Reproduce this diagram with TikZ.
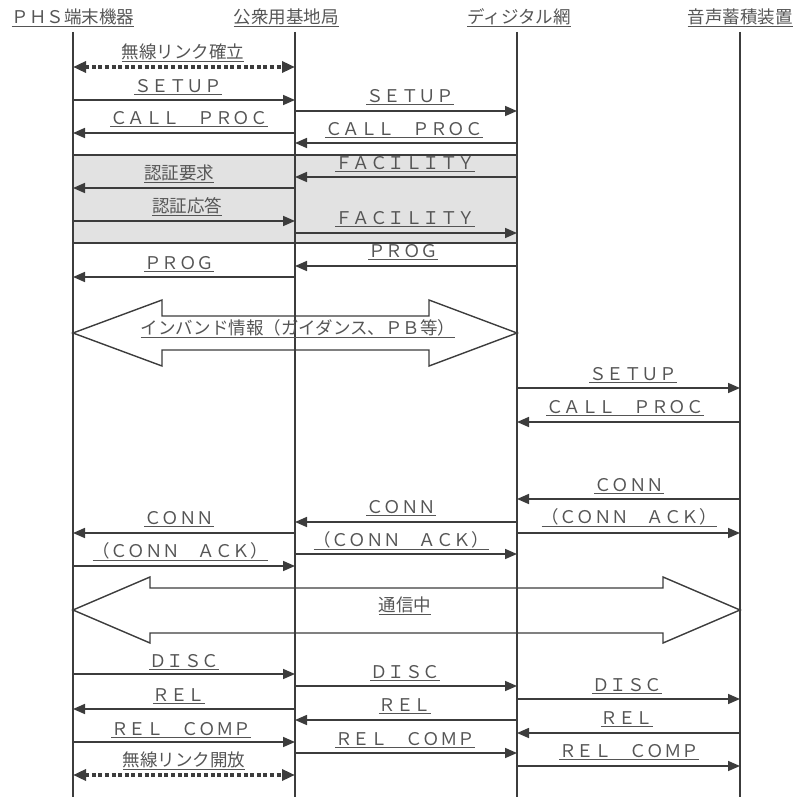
\documentclass[tikz,border=0pt]{standalone}
\usepackage{fontspec}
\newfontfamily\jpfont{Noto Sans CJK JP}
\usetikzlibrary{arrows.meta}
\definecolor{linegray}{HTML}{3C3C3C}
\definecolor{txtgray}{HTML}{555555}
\definecolor{boxgray}{HTML}{E2E2E2}
\tikzset{
  life/.style={draw=linegray, line width=1.6pt},
  msg/.style={draw=linegray, line width=1.6pt, -{Triangle[length=12pt,width=10pt]}},
  radiolink/.style={draw=linegray, line width=3.6pt, dash pattern=on 4pt off 2.6pt,
    {Triangle[length=13pt,width=11pt]}-{Triangle[length=13pt,width=11pt]}},
  bigarrow/.style={draw=linegray, line width=1.4pt, line join=miter},
  authbox/.style={draw=linegray, fill=boxgray, line width=1.6pt},
  lbl/.style={font=\jpfont\fontsize{17.5}{18}\selectfont, text=txtgray, inner sep=0pt, anchor=south},
}
\begin{document}
\begin{tikzpicture}[x=1pt, y=-1pt]
  \useasboundingbox (0,0) rectangle (798,797);

  % lifelines: top and bottom points
  \foreach \n/\x in {A/73, B/295, C/517, D/740} {
    \coordinate (\n0) at (\x,32);
    \coordinate (\n1) at (\x,797);
  }

  % authentication block (shaded)
  \draw[authbox] (A0 |- 0,155) rectangle (C0 |- 0,243);

  \foreach \n in {A,B,C,D} {
    \draw[life] (\n0) -- (\n1);
  }

  % headers
  \node[lbl] (hA) at (73,27) {\underline{ＰＨＳ端末機器}};
  \node[lbl] (hB) at (286,27) {\underline{公衆用基地局}};
  \node[lbl] (hC) at (519,27) {\underline{ディジタル網}};
  \node[lbl] (hD) at (740,27) {\underline{音声蓄積装置}};

  % radio link set up / release
  \draw[radiolink] (A0 |- 0,67) -- (B0 |- 0,67);
  \node[lbl] (rl1) at (183,62) {\underline{無線リンク確立}};
  \draw[radiolink] (A0 |- 0,775) -- (B0 |- 0,775);
  \node[lbl] (rl2) at (184,770) {\underline{無線リンク開放}};

  % messages: arrow y / from / to / label x / underline y / text
  \foreach \y/\s/\t/\lx/\ly/\txt [count=\i] in {
      100/A/B/178/94/ＳＥＴＵＰ,
      111/B/C/410/104/ＳＥＴＵＰ,
      133/B/A/189/126/ＣＡＬＬ　ＰＲＯＣ,
      143/C/B/404/137/ＣＡＬＬ　ＰＲＯＣ,
      177/C/B/405/171/ＦＡＣＩＬＩＴＹ,
      188/B/A/179/182/認証要求,
      221/A/B/187/215/認証応答,
      233/B/C/405/226/ＦＡＣＩＬＩＴＹ,
      266/C/B/403/259/ＰＲＯＧ,
      277/B/A/179/271/ＰＲＯＧ,
      388/C/D/633/382/ＳＥＴＵＰ,
      422/D/C/625/415/ＣＡＬＬ　ＰＲＯＣ,
      499/D/C/629/493/ＣＯＮＮ,
      522/C/B/401/515/ＣＯＮＮ,
      533/B/A/179/526/ＣＯＮＮ,
      533/C/D/629/526/（ＣＯＮＮ　ＡＣＫ）,
      554/B/C/401/549/（ＣＯＮＮ　ＡＣＫ）,
      566/A/B/180/560/（ＣＯＮＮ　ＡＣＫ）,
      674/A/B/184/669/ＤＩＳＣ,
      686/B/C/405/680/ＤＩＳＣ,
      699/C/D/627/693/ＤＩＳＣ,
      709/B/A/179/703/ＲＥＬ,
      720/C/B/405/713/ＲＥＬ,
      733/D/C/627/726/ＲＥＬ,
      742/A/B/181/737/ＲＥＬ　ＣＯＭＰ,
      753/B/C/405/747/ＲＥＬ　ＣＯＭＰ,
      766/C/D/629/759/ＲＥＬ　ＣＯＭＰ} {
    \draw[msg] (\s0 |- 0,\y) -- (\t0 |- 0,\y);
    \node[lbl] (m\i) at (\lx,\ly+1) {\underline{\txt}};
  }

  % in-band information (A <-> C)
  \draw[bigarrow] (A0 |- 0,333) -- (162,300) -- (162,316) -- (429,316) -- (429,300)
    -- (C0 |- 0,333) -- (429,366) -- (429,350) -- (162,350) -- (162,366) -- cycle;
  \node[lbl] (inband) at (298,338) {\underline{インバンド情報（ガイダンス、ＰＢ等）}};

  % talking (A <-> D)
  \draw[bigarrow] (A0 |- 0,610) -- (150,577) -- (150,588) -- (663,588) -- (663,577)
    -- (D0 |- 0,610) -- (663,643) -- (663,633) -- (150,633) -- (150,643) -- cycle;
  \node[lbl] (talk) at (405,615) {\underline{通信中}};

\end{tikzpicture}
\end{document}
